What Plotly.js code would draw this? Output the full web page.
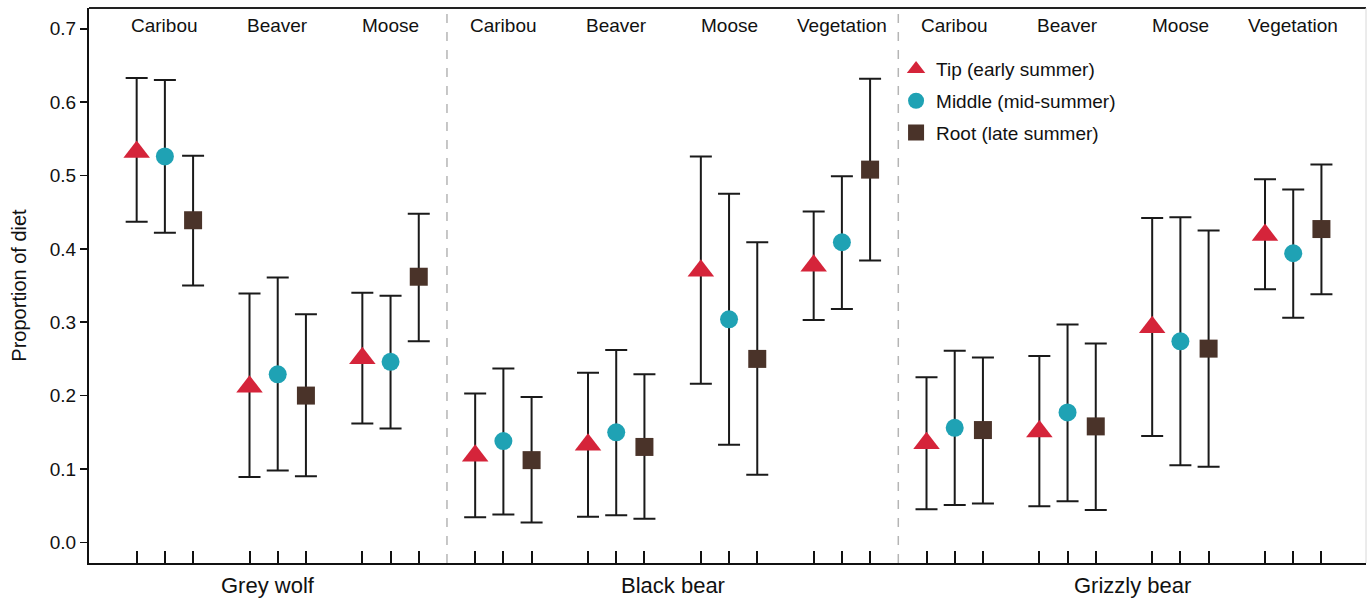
<!DOCTYPE html>
<html><head><meta charset="utf-8">
<script src="https://cdn.plot.ly/plotly-3.0.1.min.js"></script>
<style>html,body{margin:0;padding:0;background:#fff}#chart{width:1367px;height:600px}</style>
</head><body><div id="chart"></div>
<script>
// ---- data ----
const predators = ["Grey wolf", "Black bear", "Grizzly bear"];
const preyByPredator = [
  ["Caribou", "Beaver", "Moose"],
  ["Caribou", "Beaver", "Moose", "Vegetation"],
  ["Caribou", "Beaver", "Moose", "Vegetation"]
];
const seasons = ["Tip (early summer)", "Middle (mid-summer)", "Root (late summer)"];
// order: wolf caribou, beaver, moose | black bear caribou, beaver, moose, vegetation | grizzly caribou, beaver, moose, vegetation
const tipMean  = [0.532, 0.212, 0.251, 0.118, 0.133, 0.370, 0.377, 0.135, 0.151, 0.293, 0.419];
const tipLow   = [0.437, 0.089, 0.162, 0.034, 0.035, 0.216, 0.303, 0.045, 0.049, 0.145, 0.345];
const tipHigh  = [0.633, 0.339, 0.340, 0.203, 0.231, 0.526, 0.451, 0.225, 0.254, 0.442, 0.495];
const midMean  = [0.526, 0.229, 0.246, 0.138, 0.150, 0.304, 0.409, 0.156, 0.177, 0.274, 0.394];
const midLow   = [0.422, 0.098, 0.155, 0.038, 0.037, 0.133, 0.318, 0.051, 0.056, 0.105, 0.306];
const midHigh  = [0.630, 0.361, 0.336, 0.237, 0.262, 0.475, 0.499, 0.261, 0.297, 0.443, 0.481];
const rootMean = [0.439, 0.200, 0.362, 0.112, 0.130, 0.250, 0.508, 0.153, 0.158, 0.264, 0.427];
const rootLow  = [0.350, 0.090, 0.274, 0.027, 0.032, 0.092, 0.384, 0.053, 0.044, 0.103, 0.338];
const rootHigh = [0.527, 0.311, 0.448, 0.198, 0.229, 0.409, 0.632, 0.252, 0.271, 0.425, 0.515];
const yTicks = [0, 0.1, 0.2, 0.3, 0.4, 0.5, 0.6, 0.7];

// ---- layout helpers ----
const FONT = "Liberation Sans, Arial, Helvetica, sans-serif";
const colors = ["#d5243a", "#1fa2b4", "#4a3329"];
const symbols = ["triangle-up", "circle", "square"];
const sizes = [23, 18, 18];
const SLOT = 4; // 3 seasons + gap per prey group
const xRange = [-1.69, 43.58];

// group start positions
const groupStart = [];
const predFirst = [];
let g = 0;
preyByPredator.forEach((list) => {
  predFirst.push(g * SLOT);
  list.forEach(() => { groupStart.push(g * SLOT); g++; });
});
const seasonX = s => groupStart.map(v => v + s);

const means = [tipMean, midMean, rootMean];
const lows = [tipLow, midLow, rootLow];
const highs = [tipHigh, midHigh, rootHigh];

const traces = seasons.map((name, s) => ({
  type: "scatter", mode: "markers", name: name,
  legendgroup: "g" + s,
  x: seasonX(s), y: means[s],
  marker: {symbol: symbols[s], size: sizes[s], color: colors[s], line: {width: 0}},
  error_y: {
    type: "data", symmetric: false,
    array: means[s].map((m, i) => highs[s][i] - m),
    arrayminus: means[s].map((m, i) => m - lows[s][i]),
    color: "#1a1a1a", thickness: 2, width: 11
  },
  cliponaxis: false
}));

const allX = [];
groupStart.forEach(v => { allX.push(v, v + 1, v + 2); });

const dividers = predFirst.slice(1).map(v => v - 1);
const shapes = dividers.map(d => ({
  type: "line", xref: "x", yref: "paper", x0: d, x1: d, y0: 0, y1: 1,
  line: {color: "#b5b5b5", width: 1.5, dash: "dash"}
}));
shapes.push({type: "line", xref: "paper", yref: "paper", x0: 0, x1: 1, y0: 1, y1: 1, line: {color: "#222", width: 2}});
shapes.push({type: "line", xref: "paper", yref: "paper", x0: 1, x1: 1, y0: 0, y1: 1, line: {color: "#d8d8d8", width: 1}});

const annotations = [];
let gi = 0;
preyByPredator.forEach(list => {
  list.forEach(prey => {
    annotations.push({xref: "x", yref: "paper", x: groupStart[gi] + 1, y: 0.969, yanchor: "middle",
      text: prey, showarrow: false, font: {family: FONT, size: 19, color: "#111"}});
    gi++;
  });
});
predators.forEach((name, p) => {
  const left = p === 0 ? xRange[0] : dividers[p - 1];
  const right = p === predators.length - 1 ? xRange[1] : dividers[p];
  annotations.push({xref: "x", yref: "paper", x: (left + right) / 2, y: -0.04, yanchor: "middle",
    text: name, showarrow: false, font: {family: FONT, size: 22, color: "#111"}});
});

const layout = {
  width: 1367, height: 600,
  margin: {l: 89, r: 1, t: 8, b: 37, pad: 0},
  paper_bgcolor: "#fff", plot_bgcolor: "#fff",
  font: {family: FONT, color: "#111"},
  showlegend: true,
  legend: {x: 0.632, y: 0.924, xanchor: "left", yanchor: "top", traceorder: "grouped",
    tracegroupgap: 4, bgcolor: "rgba(0,0,0,0)", font: {family: FONT, size: 19, color: "#111"}},
  xaxis: {range: xRange, showgrid: false, zeroline: false, showline: true, linecolor: "#111", linewidth: 2,
    tickmode: "array", tickvals: allX, ticktext: allX.map(() => ""), ticks: "inside", ticklen: 12,
    tickwidth: 2, tickcolor: "#111", fixedrange: true},
  yaxis: {range: [-0.0282, 0.7283], showgrid: false, zeroline: false, showline: true, linecolor: "#111", linewidth: 2,
    tickmode: "array", tickvals: yTicks, ticktext: yTicks.map(v => v.toFixed(1)), ticks: "outside", ticklen: 7,
    tickwidth: 1.5, tickcolor: "#111", tickfont: {family: FONT, size: 19, color: "#111"},
    title: {text: "Proportion of diet", font: {family: FONT, size: 20, color: "#111"}, standoff: 18},
    automargin: false, fixedrange: true},
  shapes: shapes, annotations: annotations
};

Plotly.newPlot("chart", traces, layout, {displayModeBar: false, staticPlot: true});
</script>
</body></html>
